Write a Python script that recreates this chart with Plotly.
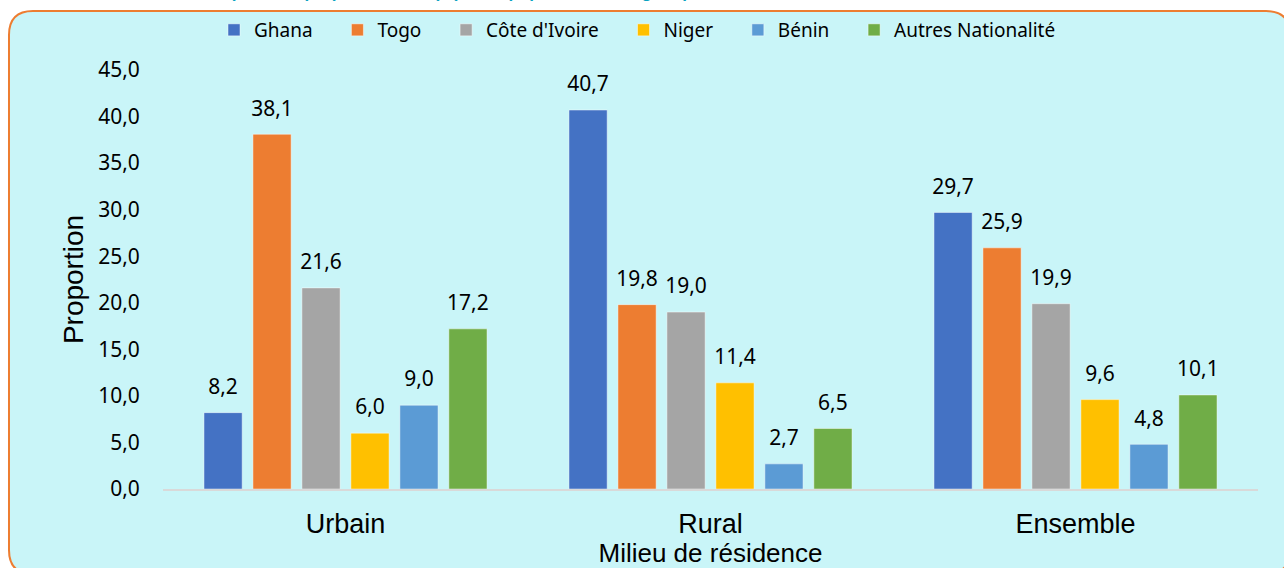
import plotly.graph_objects as go

# Données
MILIEUX = ['Urbain', 'Rural', 'Ensemble']
NATIONALITES = ['Ghana', 'Togo', "Côte d'Ivoire", 'Niger', 'Bénin', 'Autres Nationalité']
GHANA = [8.2, 40.7, 29.7]
TOGO = [38.1, 19.8, 25.9]
COTE_IVOIRE = [21.6, 19.0, 19.9]
NIGER = [6.0, 11.4, 9.6]
BENIN = [9.0, 2.7, 4.8]
AUTRES = [17.2, 6.5, 10.1]
Y_TICKS = [0, 5, 10, 15, 20, 25, 30, 35, 40, 45]

SERIES = [GHANA, TOGO, COTE_IVOIRE, NIGER, BENIN, AUTRES]
COLORS = ['#4472C4', '#ED7D31', '#A5A5A5', '#FFC000', '#5B9BD5', '#70AD47']

BOX_BG = '#C9F5F8'
BORDER = '#ED7D31'
TITLE_CLR = '#0AA3C2'
FONT_NUM = 'Noto Sans, sans-serif'
FONT_AX = 'Liberation Sans, Arial, sans-serif'
GAP = 0.195

W, H = 1284, 568
ML, MR, MT, MB = 163, 26, 70, 79
PW, PH = W - ML - MR, H - MT - MB


def px_x(x):
    return (x - ML) / PW


def px_y(y):
    return (H - MB - y) / PH


def rounded_box(x0, y0, x1, y1, r):
    # chemin en coordonnées "paper" avec coins arrondis (courbes Q)
    X = lambda v: f'{px_x(v):.5f}'
    Y = lambda v: f'{px_y(v):.5f}'
    return (
        f'M {X(x0 + r)} {Y(y0)} L {X(x1 - r)} {Y(y0)} '
        f'Q {X(x1)} {Y(y0)} {X(x1)} {Y(y0 + r)} '
        f'L {X(x1)} {Y(y1 - r)} Q {X(x1)} {Y(y1)} {X(x1 - r)} {Y(y1)} '
        f'L {X(x0 + r)} {Y(y1)} Q {X(x0)} {Y(y1)} {X(x0)} {Y(y1 - r)} '
        f'L {X(x0)} {Y(y0 + r)} Q {X(x0)} {Y(y0)} {X(x0 + r)} {Y(y0)} Z'
    )


fig = go.Figure()

# ── Barres ──
for name, vals, clr in zip(NATIONALITES, SERIES, COLORS):
    fig.add_trace(go.Bar(
        x=MILIEUX, y=vals, name=name + '\u00a0' * 4,
        marker=dict(color=clr, line=dict(color='rgba(255,255,255,0.45)', width=1)),
        hoverinfo='skip',
    ))

# ── Étiquettes de valeurs (scatter groupé aligné sur les barres) ──
for name, vals in zip(NATIONALITES, SERIES):
    fig.add_trace(go.Scatter(
        x=MILIEUX, y=vals, mode='markers+text',
        marker=dict(size=20, color='rgba(0,0,0,0)'),
        text=[f'{v:.1f}'.replace('.', ',') for v in vals],
        textposition='top center',
        textfont=dict(family=FONT_NUM, size=21, color='#000000'),
        cliponaxis=False, showlegend=False, hoverinfo='skip',
    ))

fig.add_shape(
    type='path', xref='paper', yref='paper', layer='below',
    path=rounded_box(9, 11, 1290, 574, 24),
    fillcolor=BOX_BG, line=dict(color=BORDER, width=2),
)

# titre coupé en haut de l'image
fig.add_annotation(
    text='Répartition proportionnelle (%) de la population étrangère par nationalité selon le milieu de résidence',
    xref='paper', yref='paper', x=px_x(208), y=px_y(4),
    xanchor='left', yanchor='bottom', showarrow=False,
    font=dict(family=FONT_AX, size=17, color=TITLE_CLR, weight='bold'),
)

fig.update_layout(
    width=W, height=H,
    margin=dict(l=ML, r=MR, t=MT, b=MB, autoexpand=False),
    paper_bgcolor='#FFFFFF', plot_bgcolor='rgba(0,0,0,0)',
    separators=', ',
    barmode='group', bargap=GAP, bargroupgap=0.22,
    scattermode='group', scattergap=GAP,
    font=dict(family=FONT_NUM, color='#000000'),
    xaxis=dict(
        title=dict(text='Milieu de résidence', font=dict(family=FONT_AX, size=26), standoff=15),
        tickfont=dict(family=FONT_AX, size=27),
        showline=True, linecolor='#D9D9D9', linewidth=2,
        ticks='outside', ticklen=10, tickcolor='rgba(0,0,0,0)',
        automargin=False, fixedrange=True,
    ),
    yaxis=dict(
        title=dict(text='Proportion', font=dict(family=FONT_AX, size=28), standoff=6),
        range=[0, 45], tickvals=Y_TICKS, tickformat='.1f',
        tickfont=dict(family=FONT_NUM, size=21),
        showgrid=False, zeroline=False, showline=False,
        ticks='outside', ticklen=18, tickcolor='rgba(0,0,0,0)',
        automargin=False, fixedrange=True,
    ),
    legend=dict(
        orientation='h', x=px_x(214), y=px_y(30),
        xanchor='left', yanchor='middle',
        font=dict(family=FONT_NUM, size=19),
        bgcolor='rgba(0,0,0,0)',
    ),
)

fig.write_html('out.html', config={'displayModeBar': False},
               post_script="document.body.style.margin='0px';")
